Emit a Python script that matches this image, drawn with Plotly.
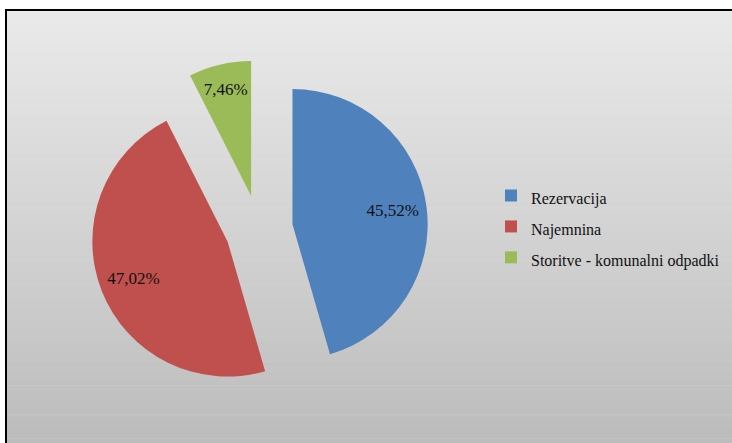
import plotly.graph_objects as go

categories = ["Rezervacija", "Najemnina", "Storitve - komunalni odpadki"]
shares = [45.52, 47.02, 7.46]
colors = ["#4f81bd", "#c0504d", "#9bbb59"]

W, H = 732, 443
SERIF = "Liberation Serif"

def px(x):
    return x / W

def py(y):
    return 1 - y / H

legend_labels = [f'<span style="font-size:16px">{c}</span>' for c in categories]
fmt = "%{value:.2f}%"

CX, CY = 259, 229  # pie centre in pixels

fig = go.Figure()
# main exploded pie (slices + small-slice label)
fig.add_trace(go.Pie(
    labels=legend_labels,
    values=shares,
    sort=False,
    direction="clockwise",
    rotation=0,
    pull=0.25,
    marker=dict(colors=colors, line=dict(width=0)),
    texttemplate=["", "", fmt],
    textposition="inside",
    insidetextorientation="horizontal",
    textfont=dict(family=SERIF, size=17, color="#111111"),
    domain=dict(x=[px(CX - 169), px(CX + 169)], y=[py(CY + 169), py(CY - 169)]),
    hoverinfo="label+percent",
))
# transparent companion pie, same centre, used to place the large-slice labels further out
half = 214
fig.add_trace(go.Pie(
    labels=legend_labels,
    values=shares,
    sort=False,
    direction="clockwise",
    rotation=0,
    pull=0.35,
    showlegend=False,
    hoverinfo="skip",
    marker=dict(colors=["rgba(0,0,0,0)"] * 3, line=dict(width=0)),
    texttemplate=[fmt, fmt, ""],
    textposition="inside",
    insidetextorientation="horizontal",
    textfont=dict(family=SERIF, size=17, color="#111111"),
    domain=dict(x=[px(CX - half), px(CX + half)], y=[max(0, py(CY + half)), py(CY - half)]),
))

# gradient background with frame
shapes = []
top, bottom, left = 10, 443, 6
n = 90
c0, c1 = (234, 234, 234), (188, 188, 188)
for i in range(n):
    y0 = top + (bottom - top) * i / n
    y1 = top + (bottom - top) * (i + 1) / n + 0.6
    t = (i + 0.5) / n
    c = tuple(round(a + (b - a) * t) for a, b in zip(c0, c1))
    shapes.append(dict(type="rect", xref="paper", yref="paper", layer="below",
                       x0=px(left), x1=1.01, y0=py(min(y1, bottom)), y1=py(y0),
                       fillcolor=f"rgb{c}", line=dict(width=0)))
shapes.append(dict(type="line", xref="paper", yref="paper", layer="above",
                   x0=px(left), x1=px(left), y0=py(bottom + 2), y1=py(top),
                   line=dict(color="black", width=2)))
shapes.append(dict(type="line", xref="paper", yref="paper", layer="above",
                   x0=px(left - 1), x1=1.01, y0=py(top), y1=py(top),
                   line=dict(color="black", width=2)))

fig.update_layout(
    width=W, height=H,
    margin=dict(l=0, r=0, t=0, b=0),
    paper_bgcolor="white",
    plot_bgcolor="rgba(0,0,0,0)",
    separators=",.",
    shapes=shapes,
    showlegend=True,
    legend=dict(
        x=px(491), xanchor="left",
        y=py(175), yanchor="top",
        bgcolor="rgba(0,0,0,0)",
        font=dict(family=SERIF, size=21.5, color="#111111"),
        traceorder="normal",
    ),
)

fig.write_html("out.html", config={"displayModeBar": False},
               post_script="document.body.style.margin='0';")
